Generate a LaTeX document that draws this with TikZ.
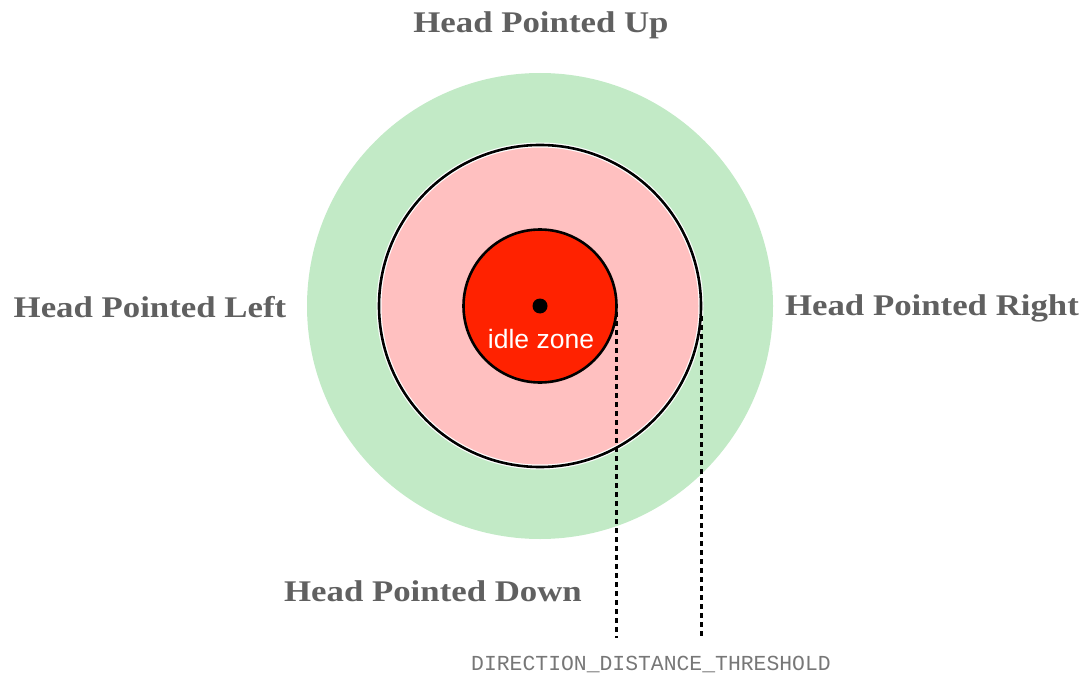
\documentclass[tikz,border=0pt]{standalone}
\usepackage{fontspec}
\setmainfont{Liberation Serif}
\newfontfamily\headfont[FakeStretch=1.16]{Liberation Serif}
\newfontfamily\labelsans{Liberation Sans}
\newfontfamily\labelmono{Liberation Mono}
\definecolor{zgreen}{HTML}{C2EAC6}
\definecolor{zpink}{HTML}{FFC0C0}
\definecolor{zred}{HTML}{FF2200}
\definecolor{ztext}{HTML}{606060}
\definecolor{zmono}{HTML}{777777}
\tikzset{
  headlbl/.style={text=ztext, font=\headfont\fontsize{30}{34}\selectfont\bfseries, inner sep=0pt},
  thresh/.style={line width=3pt, dash pattern=on 5pt off 4pt},
}
\begin{document}
\begin{tikzpicture}[x=1pt,y=-1pt]
\useasboundingbox (0,0) rectangle (1085,674);
\coordinate (c) at (540,306);
\fill[zgreen] (c) circle (233);
\draw[white, line width=5pt, fill=zpink] (c) circle (161);
\draw[black, line width=2.6pt] (c) circle (161);
\draw[black, line width=2.6pt, fill=zred] (c) circle (76.5);
\node[circle, fill=black, minimum size=15pt, inner sep=0pt] (dot) at (c) {};
\node[text=white, font=\labelsans\fontsize{26.5}{30}\selectfont, inner sep=0pt] (idle) at (541,339) {idle zone};
\node[headlbl] (up) at (541,25) {Head Pointed Up};
\node[headlbl] (left) at (150,307) {Head Pointed Left};
\node[headlbl] (right) at (932,308) {Head Pointed Right};
\node[headlbl] (down) at (433,591) {Head Pointed Down};
\coordinate (t1a) at (616,312);
\coordinate (t1b) at (616,638);
\coordinate (t2a) at (701,316);
\coordinate (t2b) at (701,638);
\draw[thresh] (t1a) -- (t1b);
\draw[thresh] (t2a) -- (t2b);
\node[text=zmono, font=\labelmono\fontsize{21.4}{24}\selectfont, inner sep=0pt] (th) at (651,664) {DIRECTION\_DISTANCE\_THRESHOLD};
\end{tikzpicture}
\end{document}
